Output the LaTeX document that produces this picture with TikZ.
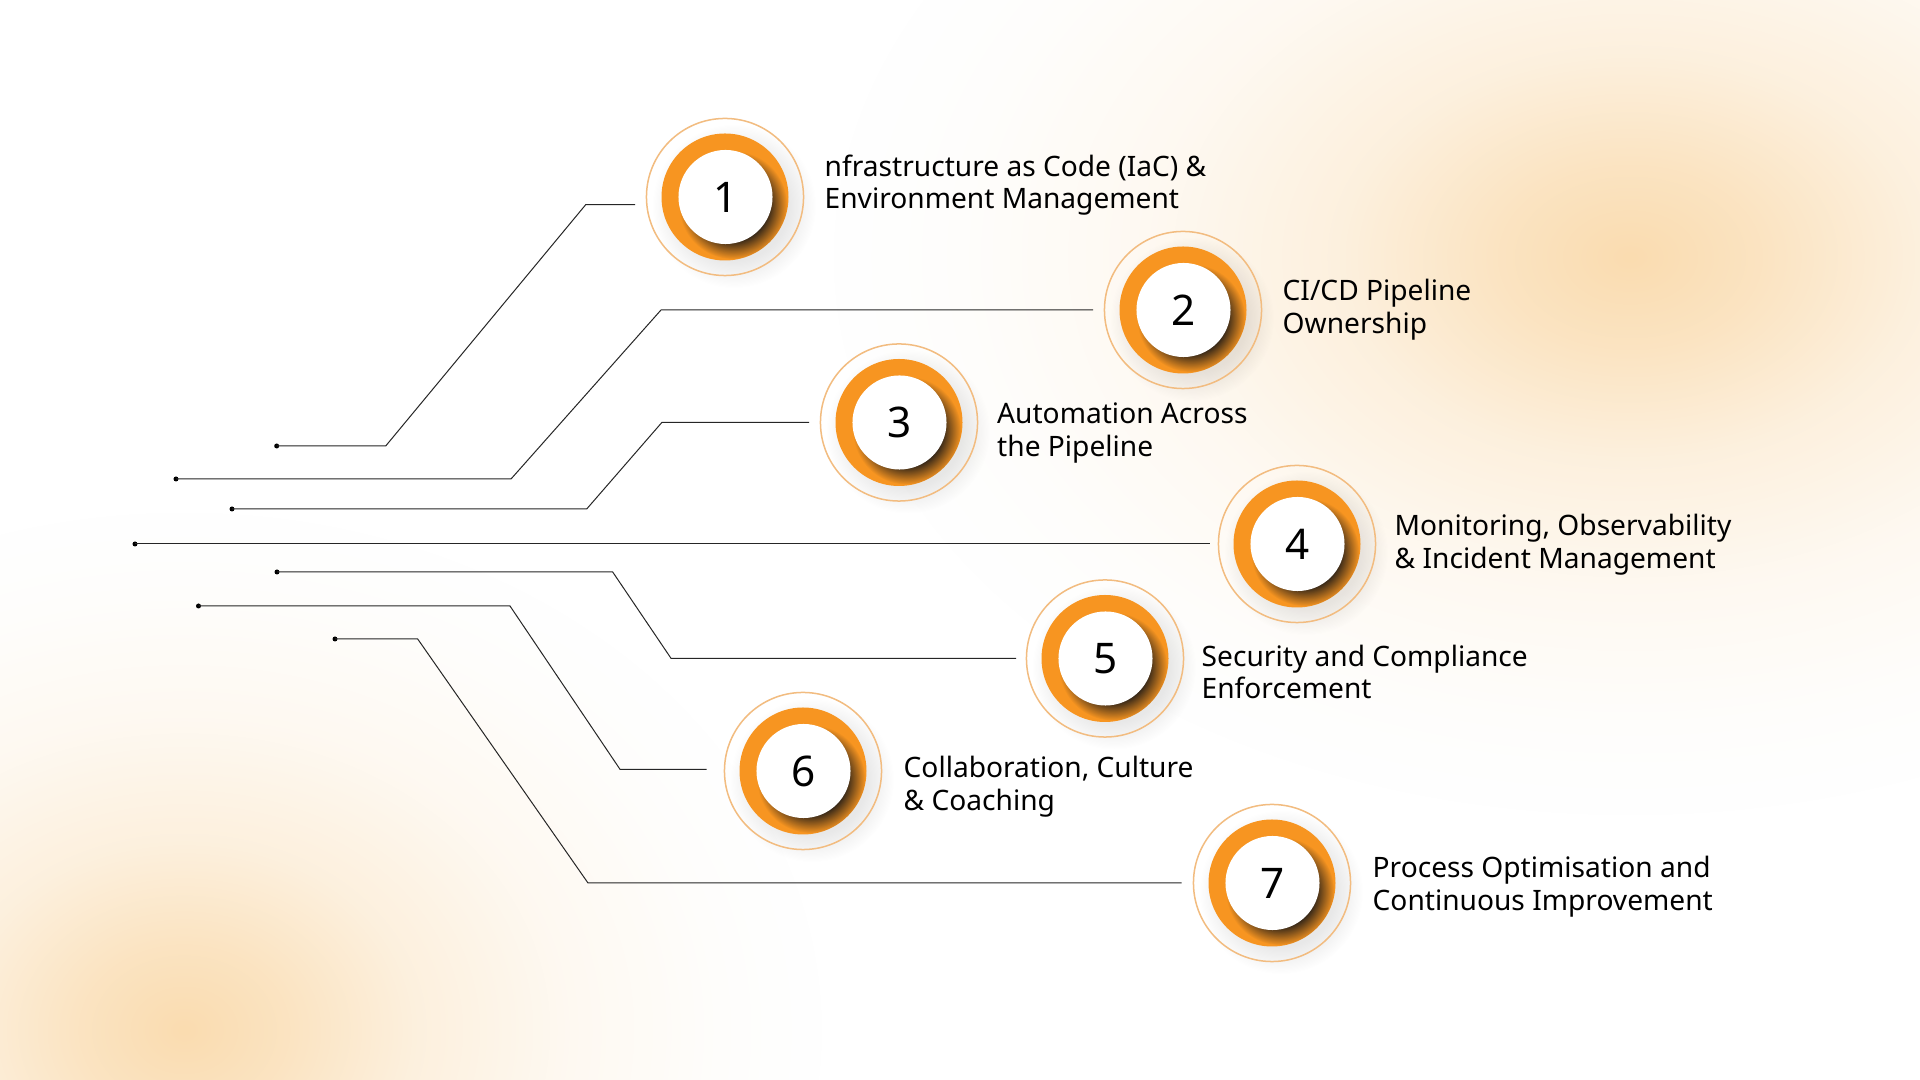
\documentclass[tikz,border=0pt]{standalone}
\usepackage{fontspec}
\setmainfont{Noto Sans}
\usetikzlibrary{fadings}
\definecolor{badgeorange}{HTML}{F79521}
\definecolor{ringline}{HTML}{F2BC80}
\definecolor{glowcolor}{HTML}{FADCB0}
\definecolor{crescent}{HTML}{2E2318}
\pgfdeclareradialshading{softshade}{\pgfpointorigin}{color(0bp)=(white);color(16.5bp)=(white);color(25bp)=(black);color(50bp)=(black)}
\pgfdeclarefading{softdisc}{\pgfuseshading{softshade}}
\pgfdeclareradialshading{glowshade}{\pgfpointorigin}{color(0bp)=(white);color(4bp)=(white!78!black);color(9bp)=(white!42!black);color(15bp)=(white!17!black);color(21bp)=(white!4!black);color(25bp)=(black);color(50bp)=(black)}
\pgfdeclarefading{softglow}{\pgfuseshading{glowshade}}
\tikzstyle{ring} = [circle, minimum size=1.57cm, inner sep=0pt, draw=ringline, line width=0.015cm]
\tikzstyle{disc} = [circle, minimum size=0.94cm, inner sep=0pt, fill=white, font=\fontsize{12}{14}\selectfont]
\tikzstyle{caption} = [anchor=west, inner sep=0pt, align=left, font=\fontsize{8}{9.3}\selectfont]
\tikzstyle{dot} = [circle, fill=black, minimum size=0.05cm, inner sep=0pt]
\tikzstyle{wire} = [black!85, line width=0.01cm]

\begin{document}
\begin{tikzpicture}[x=0.01cm,y=-0.01cm]
\useasboundingbox (0,0) rectangle (1920,1080);
\begin{scope}
\clip (0,0) rectangle (1920,1080);
\fill [white] (0,0) rectangle (1920,1080);
\fill [glowcolor, path fading=softglow, fit fading] (1630,257) ellipse (800 and 560);
\fill [glowcolor, path fading=softglow, fit fading] (184,1030) ellipse (640 and 520);
\end{scope}

\foreach \n/\cx/\cy/\numeral in {1/725/197/1, 2/1183/310/2, 3/899/422.5/3, 4/1297/544/4, 5/1105/658.5/5, 6/803/771/6, 7/1272/883/7} {
  \fill [black, opacity=0.09, path fading=softdisc, fit fading] (\cx+9,\cy+9) circle (82);
  \node (ring\n) [ring] at (\cx,\cy) {};
  \fill [badgeorange] (\cx,\cy) circle (63.5);
  \begin{scope}
  \clip (\cx,\cy) circle (63.5);
  \fill [crescent, opacity=0.95, path fading=softdisc, fit fading] (\cx+8,\cy+8) circle (54);
  \end{scope}
  \node (disc\n) [disc] at (\cx+0.5,\cy) {\numeral};
}

\node (text1) [caption] at (824,185) {nfrastructure as Code (IaC) \&\\Environment Management};
\node (text2) [caption] at (1282,310) {CI/CD Pipeline\\Ownership};
\node (text3) [caption] at (996.5,433) {Automation Across\\the Pipeline};
\node (text4) [caption] at (1394,544.5) {Monitoring, Observability\\\& Incident Management};
\node (text5) [caption] at (1201,672) {Security and Compliance\\Enforcement};
\node (text6) [caption] at (903,786.5) {Collaboration, Culture\\\& Coaching};
\node (text7) [caption] at (1372,886.5) {Process Optimisation and\\Continuous Improvement};

\node (dot1) [dot] at (276.7,446) {};
\node (dot2) [dot] at (176,479) {};
\node (dot3) [dot] at (232,509) {};
\node (dot4) [dot] at (135,544) {};
\node (dot5) [dot] at (277,572) {};
\node (dot6) [dot] at (198.5,606) {};
\node (dot7) [dot] at (335,639) {};

\coordinate (end1) at (635,204.7);
\coordinate (end2) at (1093,310);
\coordinate (end3) at (809,422.3);
\coordinate (end4) at (1210,544);
\coordinate (end5) at (1016,658.3);
\coordinate (end6) at (706.5,769.3);
\coordinate (end7) at (1181.6,883);

\draw [wire] (dot1.center) -- (385.7,446) -- (585.7,204.7) -- (end1);
\draw [wire] (dot2.center) -- (511,479) -- (661,310) -- (end2);
\draw [wire] (dot3.center) -- (586.7,509) -- (662,422.3) -- (end3);
\draw [wire] (dot4.center) -- (end4);
\draw [wire] (dot5.center) -- (612.7,572) -- (671,658.3) -- (end5);
\draw [wire] (dot6.center) -- (510,606) -- (620,769.3) -- (end6);
\draw [wire] (dot7.center) -- (417.7,639) -- (588,883) -- (end7);
\end{tikzpicture}
\end{document}
